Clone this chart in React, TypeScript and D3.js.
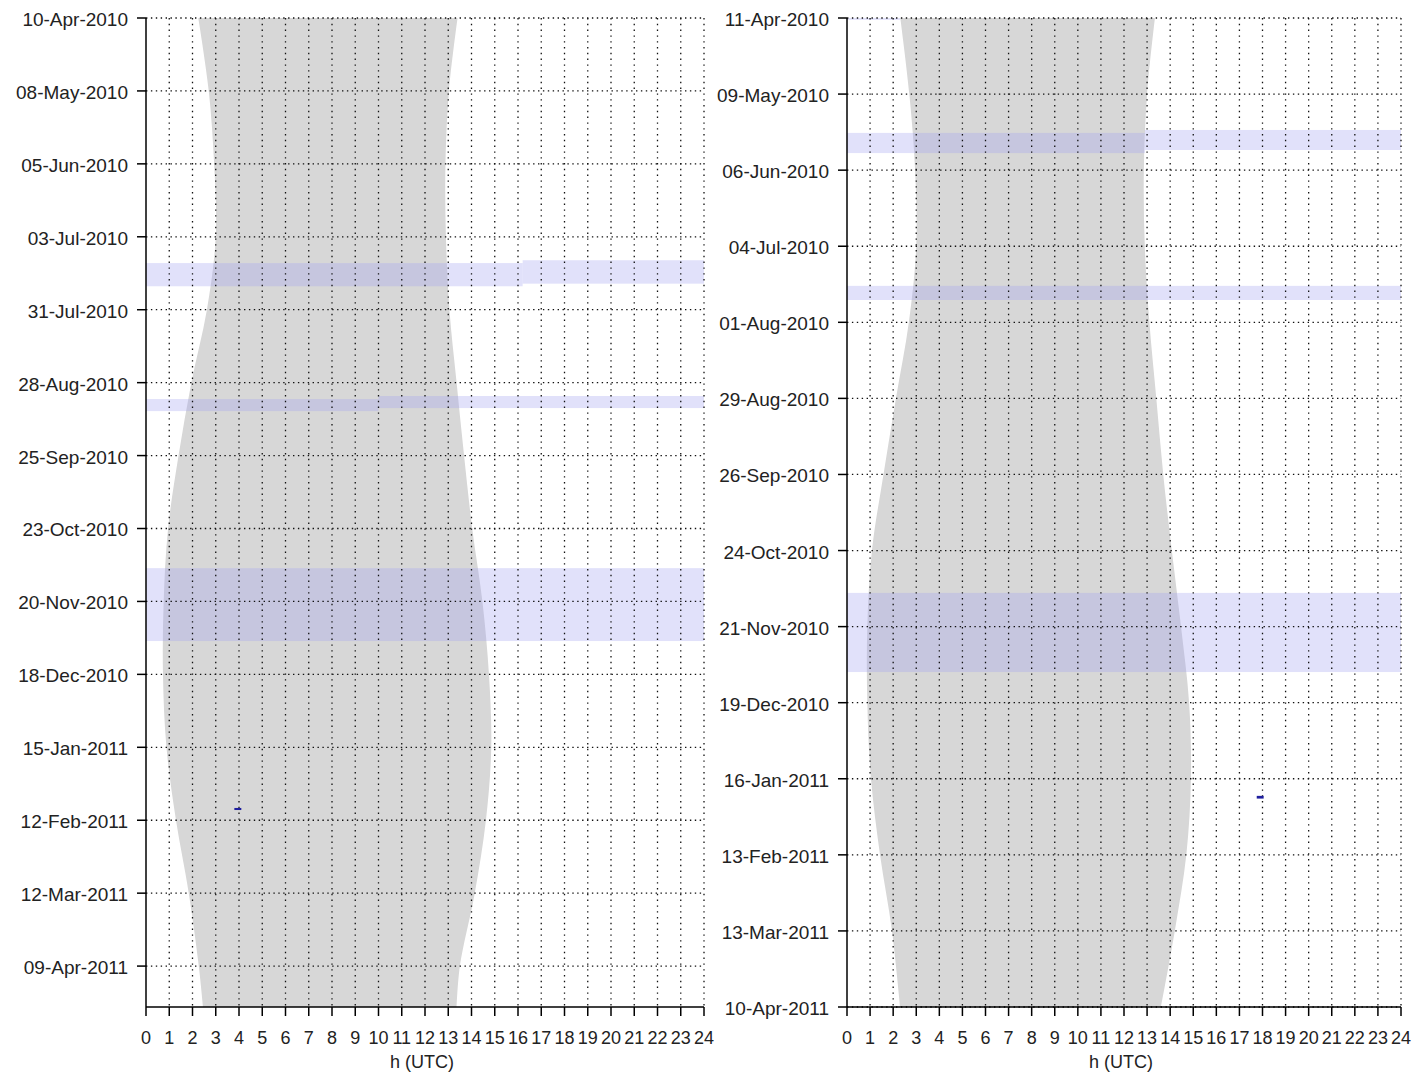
import React from "react";
import * as d3 from "d3";

// ---------- data ----------
const leftTicks = ["2010-04-10","2010-05-08","2010-06-05","2010-07-03","2010-07-31","2010-08-28","2010-09-25","2010-10-23","2010-11-20","2010-12-18","2011-01-15","2011-02-12","2011-03-12","2011-04-09"];
const leftDomain = ["2010-04-10T00:00", "2011-04-24T17:00"];
const leftShapeDates = ["2010-04-10","2010-05-08","2010-06-05","2010-07-03","2010-07-31","2010-08-28","2010-09-25","2010-10-23","2010-11-20","2010-12-18","2011-01-15","2011-02-12","2011-03-12","2011-04-09","2011-04-24T17:00"];
const leftRise = [2.25, 2.70, 2.93, 3.00, 2.62, 1.95, 1.40, 0.95, 0.76, 0.73, 0.88, 1.29, 1.84, 2.27, 2.45];
const leftSet = [13.40, 13.03, 12.88, 12.90, 13.05, 13.36, 13.68, 14.03, 14.47, 14.75, 14.85, 14.62, 14.14, 13.50, 13.36];
const leftBands = [
  { from: "2010-07-13T02:00", to: "2010-07-22T00:00", h0: 0, h1: 16.2 },
  { from: "2010-07-12T00:00", to: "2010-07-21T00:00", h0: 16.2, h1: 24 },
  { from: "2010-09-03T07:00", to: "2010-09-07T22:00", h0: 0, h1: 10 },
  { from: "2010-09-02T03:00", to: "2010-09-06T18:00", h0: 10, h1: 24 },
  { from: "2010-11-07T05:00", to: "2010-12-05T05:00", h0: 0, h1: 24 },
];
const leftMarks = [
  { from: "2011-02-07T07:00", to: "2011-02-08T02:00", h0: 3.8, h1: 4.1 },
];

const rightTicks = ["2010-04-11","2010-05-09","2010-06-06","2010-07-04","2010-08-01","2010-08-29","2010-09-26","2010-10-24","2010-11-21","2010-12-19","2011-01-16","2011-02-13","2011-03-13","2011-04-10"];
const rightDomain = ["2010-04-11T00:00", "2011-04-10T00:00"];
const rightShapeDates = ["2010-04-11","2010-05-09","2010-06-06","2010-07-04","2010-08-01","2010-08-29","2010-09-26","2010-10-24","2010-11-21","2010-12-19","2011-01-16","2011-02-13","2011-03-13","2011-04-10"];
const rightRise = [2.31, 2.70, 2.95, 3.00, 2.68, 2.12, 1.58, 1.08, 0.88, 0.88, 1.04, 1.43, 1.95, 2.30];
const rightSet = [13.34, 13.00, 12.86, 12.90, 13.10, 13.40, 13.70, 14.07, 14.47, 14.82, 14.90, 14.70, 14.20, 13.60];
const rightBands = [
  { from: "2010-04-11T00:00", to: "2010-04-11T16:00", h0: 0, h1: 2.3 },
  { from: "2010-05-23T07:00", to: "2010-05-30T17:00", h0: 0, h1: 12.9 },
  { from: "2010-05-22T05:00", to: "2010-05-29T14:00", h0: 12.9, h1: 24 },
  { from: "2010-07-18T14:00", to: "2010-07-23T19:00", h0: 0, h1: 24 },
  { from: "2010-11-08T14:00", to: "2010-12-07T17:00", h0: 0, h1: 24 },
];
const rightMarks = [
  { from: "2011-01-22T07:00", to: "2011-01-23T07:00", h0: 17.75, h1: 18.05 },
];

const hourTicks = d3.range(0, 25);
const xTitle = "h (UTC)";

// ---------- helpers ----------
const parse = (s: string) => new Date(s.length === 10 ? s + "T00:00:00Z" : s + ":00Z");
const fmt = d3.utcFormat("%d-%b-%Y");
const FONT = "'Liberation Sans', Arial, sans-serif";

type Band = { from: string; to: string; h0: number; h1: number };

function Panel(props: {
  x0: number; x1: number; top: number; bottom: number;
  domain: string[]; ticks: string[]; shapeDates: string[]; rise: number[]; set: number[];
  bands: Band[]; marks: Band[];
}) {
  const { x0, x1, top, bottom } = props;
  const x = d3.scaleLinear().domain([0, 24]).range([x0, x1]);
  const y = d3.scaleUtc().domain(props.domain.map(parse)).range([top, bottom]);
  const pts = props.shapeDates.map((d, i) => ({ date: parse(d), rise: props.rise[i], set: props.set[i] }));
  const area = d3.area<any>()
    .y((d) => y(d.date))
    .x0((d) => x(d.rise))
    .x1((d) => x(d.set))
    .curve(d3.curveCatmullRom.alpha(0.5));
  const tickLen = 9;
  return (
    <g>
      <path d={area(pts) || ""} fill="#d7d7d7" />
      {props.bands.map((b, i) => (
        <rect key={"b" + i} x={x(b.h0)} width={x(b.h1) - x(b.h0)}
          y={y(parse(b.from))} height={y(parse(b.to)) - y(parse(b.from))}
          fill="#a7a7f0" fillOpacity={0.34} />
      ))}
      {/* grid */}
      {hourTicks.filter((h) => h > 0).map((h) => (
        <line key={"gv" + h} x1={x(h)} x2={x(h)} y1={top} y2={bottom}
          stroke="#111" strokeWidth={1.3} strokeDasharray="1.4 4.4" />
      ))}
      {props.ticks.map((t) => (
        <line key={"gh" + t} x1={x0} x2={x1} y1={y(parse(t))} y2={y(parse(t))}
          stroke="#111" strokeWidth={1.3} strokeDasharray="1.4 3.5" />
      ))}
      {props.marks.map((b, i) => (
        <rect key={"m" + i} x={x(b.h0)} width={x(b.h1) - x(b.h0)}
          y={y(parse(b.from))} height={Math.max(1, y(parse(b.to)) - y(parse(b.from)))}
          fill="#1f1f9e" />
      ))}
      {/* y axis */}
      <line x1={x0} x2={x0} y1={top} y2={bottom} stroke="#000" strokeWidth={1.5} />
      {props.ticks.map((t) => (
        <g key={"yt" + t}>
          <line x1={x0 - tickLen} x2={x0} y1={y(parse(t))} y2={y(parse(t))} stroke="#000" strokeWidth={1.5} />
          <text x={x0 - 18} y={y(parse(t))} dy="0.42em" textAnchor="end"
            fontFamily={FONT} fontSize={19} fill="#222">{fmt(parse(t))}</text>
        </g>
      ))}
      {/* x axis */}
      <line x1={x0} x2={x1} y1={bottom} y2={bottom} stroke="#000" strokeWidth={1.5} />
      {hourTicks.map((h) => (
        <g key={"xt" + h}>
          <line x1={x(h)} x2={x(h)} y1={bottom} y2={bottom + tickLen} stroke="#000" strokeWidth={1.5} />
          <text x={x(h)} y={bottom + 37} textAnchor="middle" fontFamily={FONT} fontSize={18} fill="#222">{h}</text>
        </g>
      ))}
      <text x={(x0 + x1) / 2 - 3} y={bottom + 61} textAnchor="middle" fontFamily={FONT} fontSize={18} fill="#222">{xTitle}</text>
    </g>
  );
}

export default function App() {
  return (
    <svg width={1412} height={1074} style={{ position: "absolute", left: 0, top: 0, background: "#fff" }}>
      <rect width={1412} height={1074} fill="#fff" />
      <Panel x0={146} x1={704} top={18} bottom={1007} domain={leftDomain} ticks={leftTicks}
        shapeDates={leftShapeDates} rise={leftRise} set={leftSet} bands={leftBands} marks={leftMarks} />
      <Panel x0={847} x1={1401} top={18} bottom={1007} domain={rightDomain} ticks={rightTicks}
        shapeDates={rightShapeDates} rise={rightRise} set={rightSet} bands={rightBands} marks={rightMarks} />
    </svg>
  );
}
